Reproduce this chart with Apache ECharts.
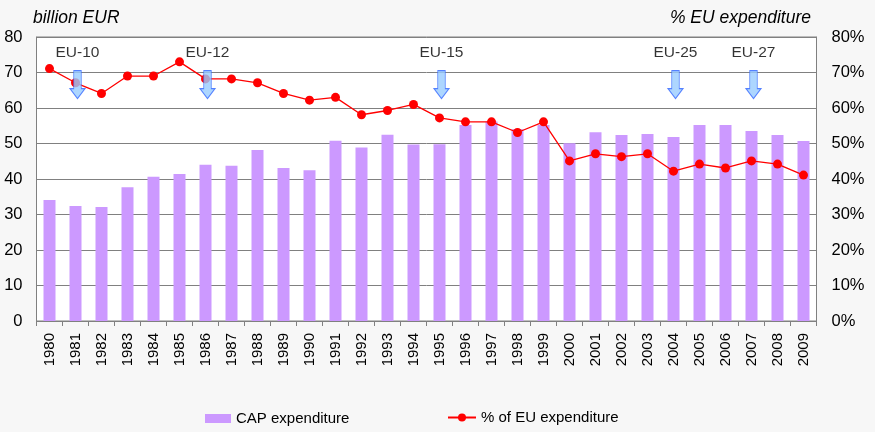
<!DOCTYPE html>
<html><head><meta charset="utf-8">
<script src="https://cdn.jsdelivr.net/npm/echarts@6/dist/echarts.min.js"></script>
<style>html,body{margin:0;padding:0;background:#f7f7f7}#c{width:875px;height:432px}</style>
</head><body><div id="c"></div>
<script>
const years = ['1980','1981','1982','1983','1984','1985','1986','1987','1988','1989','1990','1991','1992','1993','1994','1995','1996','1997','1998','1999','2000','2001','2002','2003','2004','2005','2006','2007','2008','2009'];
const capExpenditure = [34.1,32.4,32.1,37.7,40.6,41.4,44.0,43.7,48.2,43.1,42.5,50.8,48.9,52.5,49.7,49.8,55.2,56.2,54.0,55.2,50.1,53.2,52.4,52.7,51.8,55.2,55.2,53.5,52.4,50.7];
const shareOfEU = [71.1,67.1,64.1,69.0,69.0,73.0,68.2,68.2,67.1,64.1,62.2,63.0,58.1,59.3,61.0,57.2,56.1,56.1,53.1,56.1,45.1,47.1,46.3,47.1,42.2,44.2,43.1,45.1,44.2,41.1];
const eventYears = ['1981','1986','1995','2004','2007'];
const eventLabels = ['EU-10','EU-12','EU-15','EU-25','EU-27'];
const eventLevel = 66.6;
const leftTicks = {min:0, max:80, interval:10};

const FONT = 'Liberation Sans, Arial, sans-serif';
const chart = echarts.init(document.getElementById('c'));
chart.setOption({
  backgroundColor:'#f7f7f7',
  animation:false,
  textStyle:{fontFamily:FONT},
  title:[
    {text:'billion EUR', left:28, top:4, textStyle:{fontFamily:FONT, fontSize:17.5, fontStyle:'italic', fontWeight:'normal', color:'#000'}},
    {text:'% EU expenditure', right:59, top:4, textStyle:{fontFamily:FONT, fontSize:17.5, fontStyle:'italic', fontWeight:'normal', color:'#000'}}
  ],
  legend:[
    {data:[{name:'CAP expenditure', icon:'rect'}], left:200, top:406, itemWidth:26, itemHeight:9, itemGap:6,
     textStyle:{fontFamily:FONT, fontSize:15, color:'#000'}},
    {data:['% of EU expenditure'], left:442, top:405, itemWidth:28, itemHeight:10,
     textStyle:{fontFamily:FONT, fontSize:15, color:'#000'}}
  ],
  grid:{left:36.5, right:58.5, top:37, bottom:111, show:true, backgroundColor:'#fff', borderColor:'#808080', borderWidth:1},
  xAxis:{type:'category', data:years, boundaryGap:true,
    axisLine:{lineStyle:{color:'#808080'}},
    axisTick:{show:true, interval:0, length:5, lineStyle:{color:'#808080'}},
    axisLabel:{rotate:90, interval:0, fontSize:15, color:'#000', fontFamily:FONT, margin:12}},
  yAxis:[
    {type:'value', min:leftTicks.min, max:leftTicks.max, interval:leftTicks.interval,
     axisLine:{show:true, lineStyle:{color:'#808080'}}, axisTick:{show:false},
     splitLine:{lineStyle:{color:'#808080', width:1}},
     axisLabel:{fontSize:16.5, color:'#000', fontFamily:FONT, margin:14}},
    {type:'value', min:leftTicks.min, max:leftTicks.max, interval:leftTicks.interval,
     axisLine:{show:true, lineStyle:{color:'#808080'}}, axisTick:{show:false}, splitLine:{show:false},
     axisLabel:{fontSize:16.5, color:'#000', fontFamily:FONT, margin:15, formatter:'{value}%'}}
  ],
  series:[
    {name:'CAP expenditure', type:'bar', data:capExpenditure, barWidth:12, itemStyle:{color:'#cc99ff'}, z:2},
    {name:'% of EU expenditure', type:'line', yAxisIndex:1, data:shareOfEU, symbol:'circle', symbolSize:9,
     lineStyle:{color:'#ff0000', width:1.3}, itemStyle:{color:'#ff0000'}, z:3},
    {name:'events', type:'scatter', data:eventYears.map(y=>[y, eventLevel]),
     symbol:'path://M4,0 L12,0 L12,18 L16,18 L8,28 L0,18 L4,18 Z', symbolSize:[15,28], symbolOffset:[2,0],
     itemStyle:{color:'#99ccff', borderColor:'#3366ff', borderWidth:1}, z:5,
     label:{show:true, position:'top', distance:9, fontSize:15.5, color:'#000', fontFamily:FONT,
       formatter:p=>eventLabels[p.dataIndex]}}
  ]
});
</script></body></html>
